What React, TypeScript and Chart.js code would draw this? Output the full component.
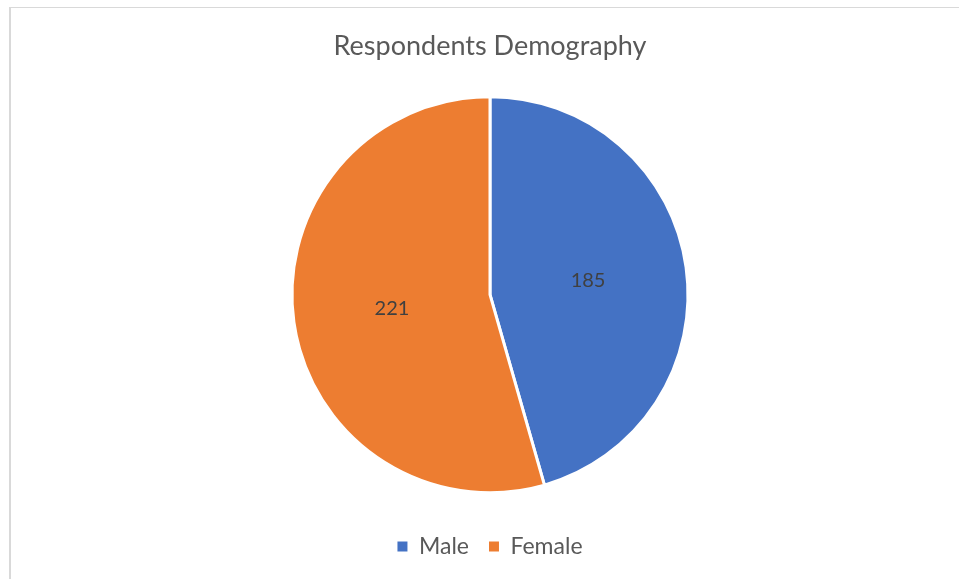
import React, { useEffect, useRef } from "react";
import { Chart, registerables } from "chart.js";

Chart.register(...registerables);

const categories = ["Male", "Female"];
const values = [185, 221];
const colors = ["#4472C4", "#ED7D31"];
const titleText = "Respondents Demography";

const FONT = "Lato, 'Open Sans', sans-serif";

const labelPlugin = {
  id: "sliceLabels",
  afterDatasetsDraw(chart: any) {
    const ctx = chart.ctx;
    const meta = chart.getDatasetMeta(0);
    ctx.save();
    ctx.fillStyle = "#404040";
    ctx.font = `20px ${FONT}`;
    ctx.textAlign = "center";
    ctx.textBaseline = "middle";
    meta.data.forEach((arc: any, i: number) => {
      const p = arc.tooltipPosition();
      ctx.fillText(String(values[i]), p.x, p.y);
    });
    ctx.restore();
  },
};

export default function App() {
  const ref = useRef<HTMLCanvasElement>(null);
  useEffect(() => {
    const chart = new Chart(ref.current!, {
      type: "pie",
      data: {
        labels: categories,
        datasets: [
          {
            data: values,
            backgroundColor: colors,
            borderColor: "#ffffff",
            borderWidth: 3,
            radius: 198,
          },
        ],
      },
      options: {
        animation: false,
        responsive: false,
        maintainAspectRatio: false,
        layout: { padding: { left: 21, right: 0, top: 0, bottom: 11 } },
        plugins: {
          title: {
            display: true,
            text: titleText,
            color: "#595959",
            font: { family: FONT, size: 27, weight: "normal" },
            padding: { top: 30, bottom: 12 },
          },
          legend: {
            position: "bottom",
            labels: {
              color: "#595959",
              font: { family: FONT, size: 23 },
              boxWidth: 10,
              boxHeight: 10,
              padding: 20,
              generateLabels(chart: any) {
                const items = Chart.overrides.pie.plugins.legend.labels.generateLabels(chart);
                return items.map((it: any) => ({ ...it, lineWidth: 0, strokeStyle: it.fillStyle }));
              },
            },
          },
          tooltip: { enabled: false },
        },
      },
      plugins: [labelPlugin],
    });
    return () => chart.destroy();
  }, []);
  return (
    <div style={{ position: "fixed", left: 0, top: 0, width: 959, height: 579, background: "#fff" }}>
      <div
        style={{
          position: "absolute",
          left: 9,
          top: 7,
          right: -5,
          bottom: -5,
          borderLeft: "2px solid #d9d9d9",
          borderTop: "1px solid #d9d9d9",
        }}
      />
      <canvas ref={ref} width={959} height={579} style={{ position: "absolute", left: 0, top: 0 }} />
    </div>
  );
}
